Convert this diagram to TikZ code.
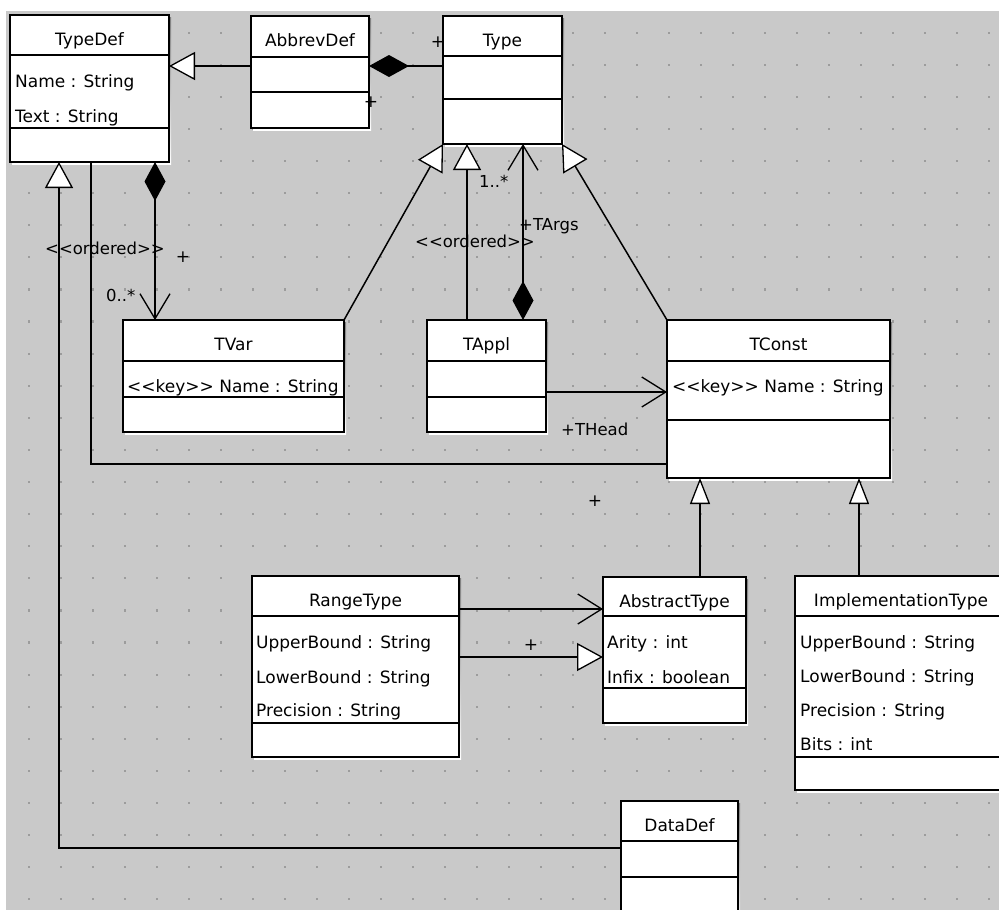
\documentclass[tikz,border=0pt]{standalone}
\usepackage{fontspec}
\setmainfont{DejaVu Sans}[Ligatures=TeXOff]
\usetikzlibrary{arrows.meta,calc}

\definecolor{canvas}{HTML}{C9C9C9}
\definecolor{griddot}{HTML}{9C9C9C}
\definecolor{shade}{HTML}{9A9A9A}

\tikzset{
  classbox/.style={draw=black, fill=white, line width=1.6pt, anchor=north west,
                   inner sep=0pt, outer sep=0pt},
  sepline/.style={line width=1.4pt},
  boxtext/.style={inner sep=0pt, font=\fontsize{17}{19}\selectfont},
  title/.style={boxtext, anchor=base},
  attr/.style={boxtext, anchor=base west},
  lbl/.style={inner sep=0pt, font=\fontsize{16.5}{19}\selectfont, anchor=base west},
  plus/.style={inner sep=0pt, font=\fontsize{17}{19}\selectfont},
  conn/.style={line width=1.5pt},
  gen/.style={conn, -{Triangle[length=26pt,width=28pt,fill=white,line width=1.3pt]}},
  gennarrow/.style={conn, -{Triangle[length=26pt,width=20pt,fill=white,line width=1.3pt]}},
  nav/.style={conn, -{Straight Barb[length=24pt,width=30pt,line width=1.3pt]}},
  comp/.style={conn, {Diamond[length=40pt,width=22pt]}-},
  compnav/.style={conn, {Diamond[length=39pt,width=21pt]}-{Straight Barb[length=25pt,width=30pt,line width=1.3pt]}},
}

% #1 name, #2 x, #3 y, #4 width, #5 height, #6 header height,
% #7 attribute compartment height, #8 class name
\newcommand{\umlclass}[8]{%
  \fill[shade] (#2+2,#3+2) rectangle ++(#4,#5);
  \node[classbox, minimum width=#4pt, minimum height=#5pt] (#1) at (#2,#3) {};
  \draw[sepline] ($(#1.north west)+(0,#6)$) -- ($(#1.north east)+(0,#6)$);
  \draw[sepline] ($(#1.north west)+(0,#6+#7)$) -- ($(#1.north east)+(0,#6+#7)$);
  \node[title] (#1-name) at ($(#1.north)+(0,30)$) {#8};
}

\begin{document}
\begin{tikzpicture}[x=1pt,y=-1pt]
\useasboundingbox (0,0) rectangle (999,910);
\clip (0,0) rectangle (999,910);

% canvas with dotted grid
\fill[white] (0,0) rectangle (999,910);
\fill[canvas] (6,11) rectangle (1000,911);
\foreach \i in {0,...,30}
  \foreach \j in {0,...,27}
    \fill[griddot] (27.5+32*\i,31.5+32.1*\j) rectangle ++(2.2,2.2);

% classes
\umlclass{typedef}{10}{15}{159}{147}{40}{73}{TypeDef}
\node[attr] (typedef-a1) at ($(typedef.north west)+(5,72)$) {Name : String};
\node[attr] (typedef-a2) at ($(typedef.north west)+(5,107)$) {Text : String};

\umlclass{abbrevdef}{251}{16}{118}{112}{41}{35}{AbbrevDef}

\umlclass{type}{443}{16}{119}{128}{40}{43}{Type}

\umlclass{tvar}{123}{320}{221}{112}{41}{36}{TVar}
\node[attr] (tvar-a1) at ($(tvar.north west)+(4,72)$) {<<key>> Name : String};

\umlclass{tappl}{427}{320}{119}{112}{41}{36}{TAppl}

\umlclass{tconst}{667}{320}{223}{158}{41}{59}{TConst}
\node[attr] (tconst-a1) at ($(tconst.north west)+(5,72)$) {<<key>> Name : String};

\umlclass{rangetype}{252}{576}{207}{181}{40}{107}{RangeType}
\node[attr] (rangetype-a1) at ($(rangetype.north west)+(4,72)$) {UpperBound : String};
\node[attr] (rangetype-a2) at ($(rangetype.north west)+(4,107)$) {LowerBound : String};
\node[attr] (rangetype-a3) at ($(rangetype.north west)+(4,140)$) {Precision : String};

\umlclass{abstracttype}{603}{577}{143}{146}{39}{72}{AbstractType}
\node[attr] (abstracttype-a1) at ($(abstracttype.north west)+(4,71)$) {Arity : int};
\node[attr] (abstracttype-a2) at ($(abstracttype.north west)+(4,106)$) {Infix : boolean};

\umlclass{impltype}{795}{576}{212}{214}{40}{141}{ImplementationType}
\node[attr] (impltype-a1) at ($(impltype.north west)+(5,72)$) {UpperBound : String};
\node[attr] (impltype-a2) at ($(impltype.north west)+(5,106)$) {LowerBound : String};
\node[attr] (impltype-a3) at ($(impltype.north west)+(5,140)$) {Precision : String};
\node[attr] (impltype-a4) at ($(impltype.north west)+(5,174)$) {Bits : int};

\umlclass{datadef}{621}{801}{117}{130}{40}{36}{DataDef}

% generalizations
\draw[gen] (abbrevdef.west |- 0,66) -- (typedef.east |- 0,66);
\draw[gen] (tvar.north east) -- (type.south west);
\draw[gen] (467,0 |- tappl.north) -- (467,0 |- type.south);
\draw[gen] (tconst.north west) -- (type.south east);
\draw[gennarrow] (700,0 |- abstracttype.north) -- (700,0 |- tconst.south);
\draw[gennarrow] (859,0 |- impltype.north) -- (859,0 |- tconst.south);
\draw[gen] (rangetype.east |- 0,657) -- (abstracttype.west |- 0,657);
\draw[gen] (datadef.west |- 0,848) -| (59,0 |- typedef.south);

% compositions and associations
\draw[comp] (abbrevdef.east |- 0,66) -- (type.west |- 0,66);
\draw[compnav] (523,0 |- tappl.north) -- (523,0 |- type.south);
\draw[compnav] (155,0 |- typedef.south) -- (155,0 |- tvar.north);
\draw[nav] (tappl.east |- 0,392) -- (tconst.west |- 0,392);
\draw[nav] (rangetype.east |- 0,609) -- (abstracttype.west |- 0,609);
\draw[conn] (91,0 |- typedef.south) |- (tconst.west |- 0,464);

% association end labels
\node[plus] (p1) at (438,42) {+};
\node[plus] (p2) at (371,102) {+};
\node[plus] (p3) at (183,257) {+};
\node[plus] (p4) at (595,501) {+};
\node[plus] (p5) at (531,645) {+};
\node[lbl] (mult1) at (479,187) {1..*};
\node[lbl] (targs) at (519,230) {+TArgs};
\node[lbl] (ord1) at (415,247) {<<ordered>>};
\node[lbl] (thead) at (561,435) {+THead};
\node[lbl] (ord2) at (45,254) {<<ordered>>};
\node[lbl] (mult2) at (106,301) {0..*};
\end{tikzpicture}
\end{document}
